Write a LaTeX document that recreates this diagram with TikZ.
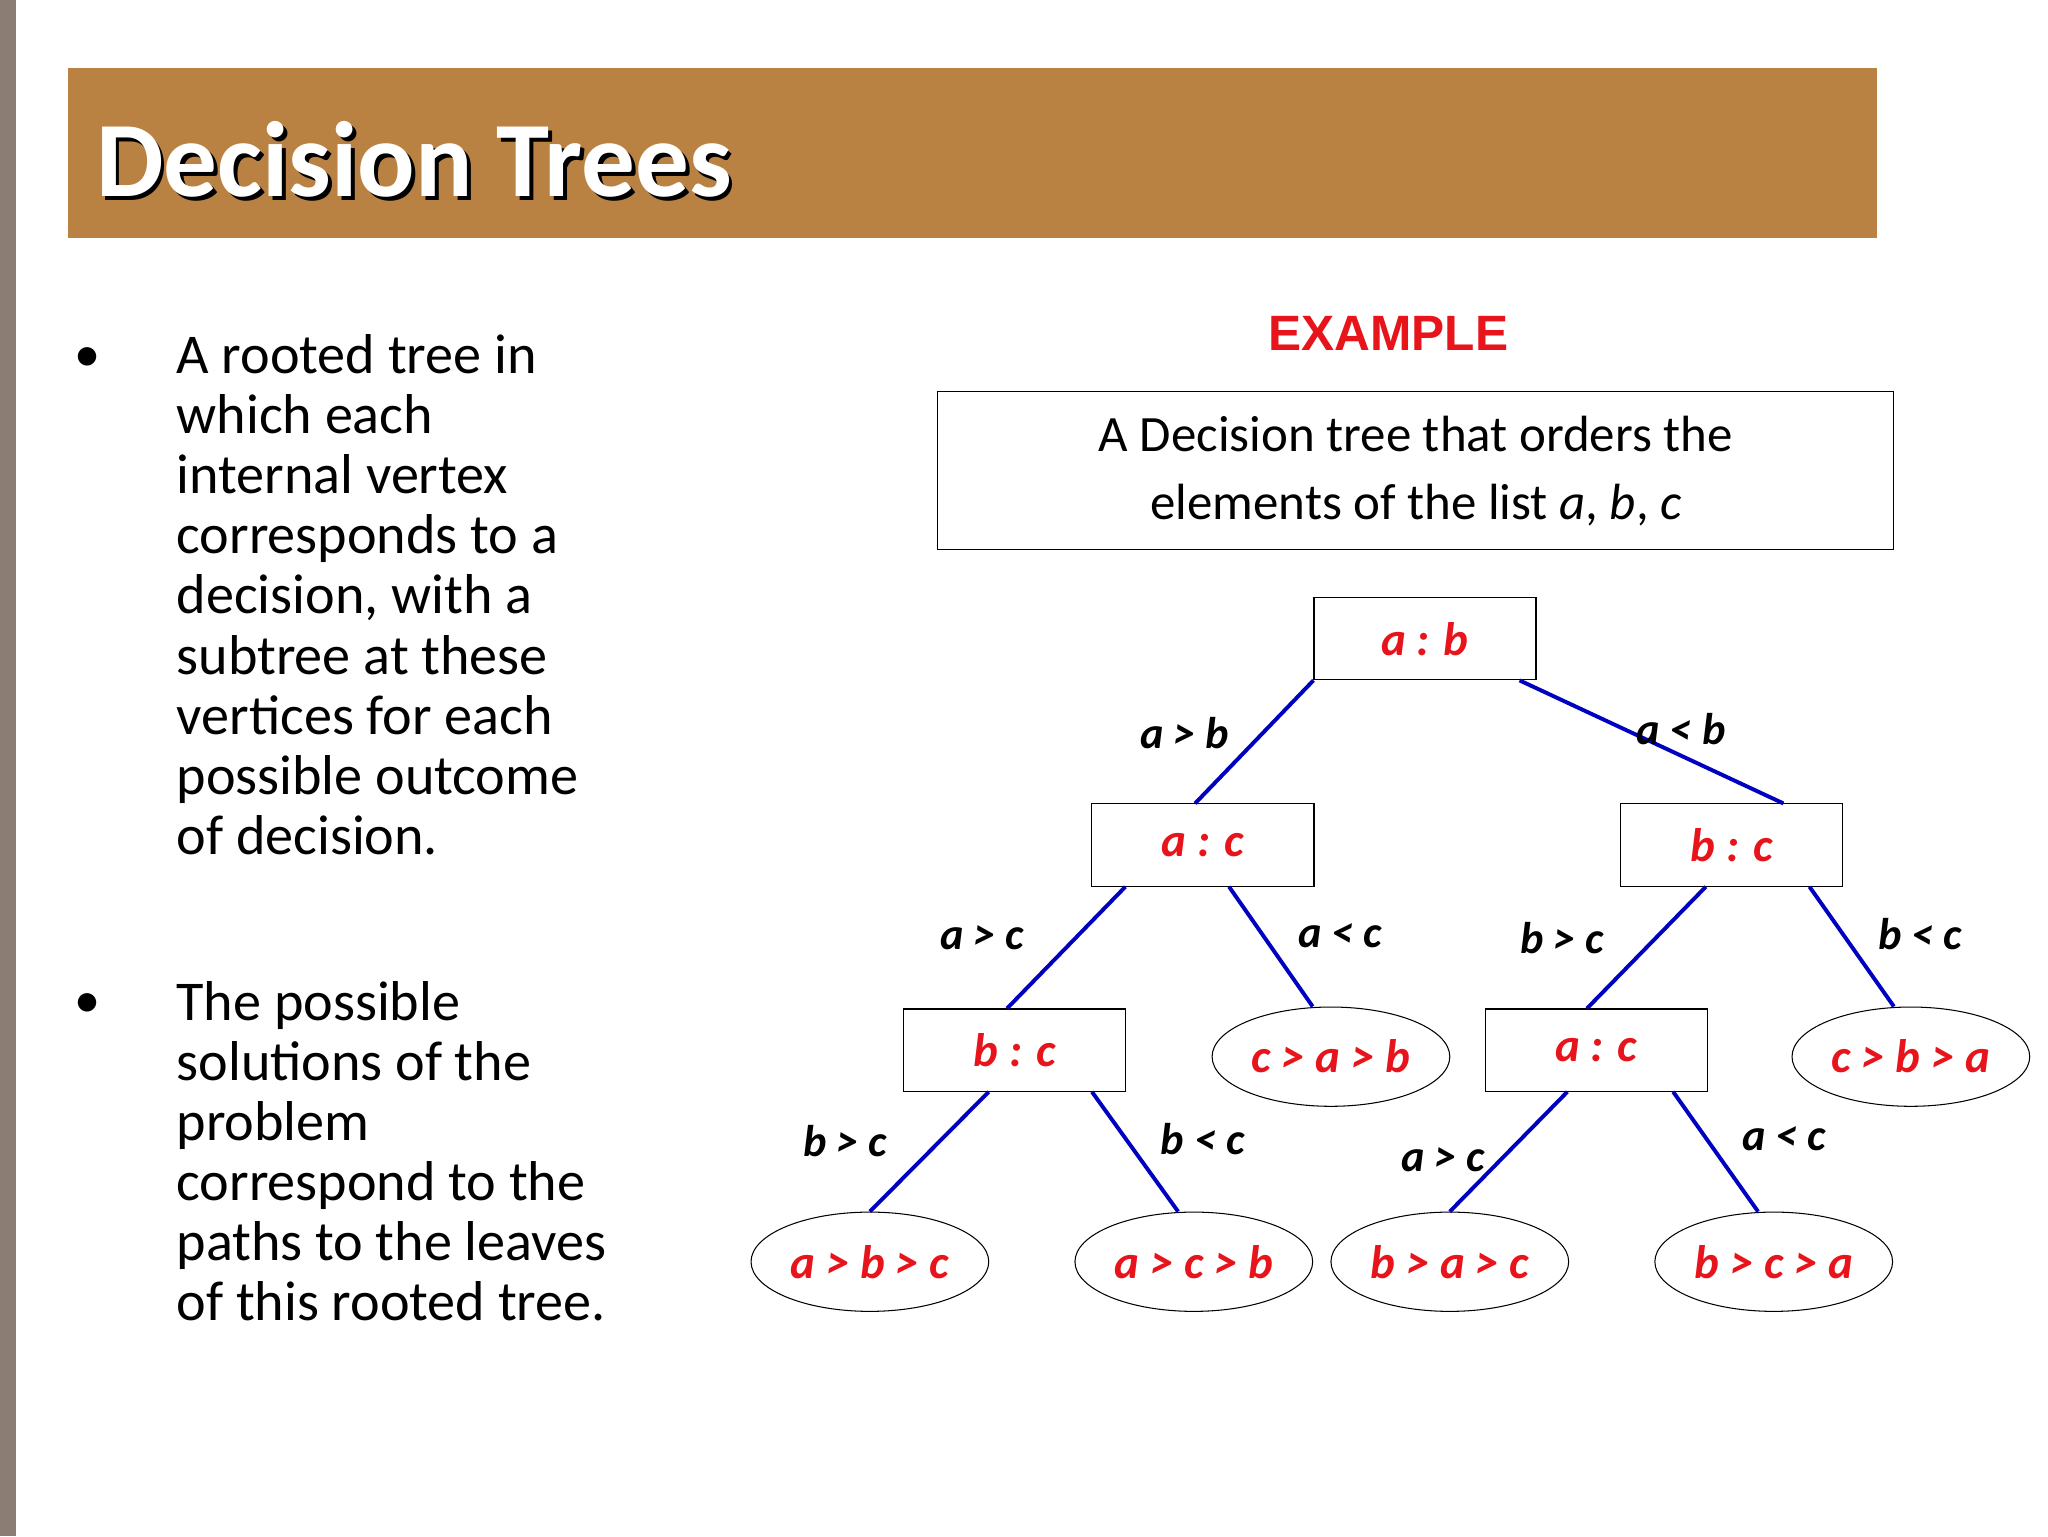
\documentclass[tikz,border=0pt]{standalone}
\usepackage{fontspec}
\setmainfont{Carlito}
\newfontfamily\arialf{Liberation Sans}
\usetikzlibrary{shapes.geometric}
\definecolor{barc}{HTML}{B98243}
\definecolor{stripc}{HTML}{8B7D73}
\definecolor{edgec}{HTML}{0000C0}
\definecolor{redc}{HTML}{E8141B}
\tikzset{
  dnode/.style={draw,thick,minimum width=170pt,minimum height=63pt,inner sep=0pt,text=redc,font=\fontsize{36}{40}\selectfont\bfseries\itshape},
  leaf/.style={draw,thick,ellipse,minimum width=182pt,minimum height=76pt,inner sep=0pt,text=redc,font=\fontsize{36}{40}\selectfont\bfseries\itshape},
  elab/.style={font=\fontsize{34}{38}\selectfont\bfseries\itshape},
  edge/.style={draw=edgec,line width=3pt},
  btxt/.style={anchor=north west,align=left,font=\fontsize{43}{46}\selectfont,inner sep=0pt}
}
\begin{document}
\begin{tikzpicture}[x=1pt,y=-1pt]
\useasboundingbox (0,0) rectangle (1568,1176);
\fill[white] (0,0) rectangle (1568,1176);
\fill[stripc] (0,0) rectangle (12,1176);
\fill[barc] (52,52) rectangle (1437,182);
\node[anchor=west,text=black,font=\fontsize{82}{90}\selectfont\bfseries] at (73,125) {Decision Trees};
\node[anchor=west,text=white,font=\fontsize{82}{90}\selectfont\bfseries] (title) at (70,122) {Decision Trees};
\node[font=\fontsize{40}{40}\selectfont] (b1) at (67,275) {•};
\node[btxt] (t1) at (135,256) {A rooted tree in\\which each\\internal vertex\\corresponds to a\\decision, with a\\subtree at these\\vertices for each\\possible outcome\\of decision.};
\node[font=\fontsize{40}{40}\selectfont] (b2) at (67,770) {•};
\node[btxt] (t2) at (135,751) {The possible\\solutions of the\\problem\\correspond to the\\paths to the leaves\\of this rooted tree.};
\node[text=redc,font=\arialf\fontsize{38}{40}\selectfont\bfseries] (ex) at (1063,255) {EXAMPLE};
\node[draw,thick,minimum width=732pt,minimum height=121pt,align=center,font=\fontsize{39}{52}\selectfont] (box) at (1084,360.5) {A Decision tree that orders the\\elements of the list \textit{a}, \textit{b}, \textit{c}};
\node[dnode] (ab) at (1091,489) {a : b};
\node[dnode] (ac) at (921,647) {a : c};
\node[dnode] (bc) at (1326,647) {b : c};
\node[dnode] (bcL) at (777,804) {b : c};
\node[dnode] (acR) at (1222,804) {a : c};
\node[leaf] (cab) at (1019,809) {c > a > b};
\node[leaf] (cba) at (1463,809) {c > b > a};
\node[leaf] (abc) at (666,966) {a > b > c};
\node[leaf] (acb) at (914,966) {a > c > b};
\node[leaf] (bac) at (1110,966) {b > a > c};
\node[leaf] (bca) at (1358,966) {b > c > a};
\draw[edge] (ab.south west) -- ([xshift=-6pt]ac.north);
\draw[edge] ([xshift=-13pt]ab.south east) -- ([xshift=-46pt]bc.north east);
\draw[edge] ([xshift=26pt]ac.south west) -- ([xshift=-6pt]bcL.north);
\draw[edge] ([xshift=20pt]ac.south) -- ([xshift=-14pt]cab.north);
\draw[edge] ([xshift=-20pt]bc.south) -- ([xshift=-7pt]acR.north);
\draw[edge] ([xshift=-26pt]bc.south east) -- ([xshift=-13pt]cba.north);
\draw[edge] ([xshift=-20pt]bcL.south) -- (abc.north);
\draw[edge] ([xshift=59pt]bcL.south) -- ([xshift=-12pt]acb.north);
\draw[edge] ([xshift=-22pt]acR.south) -- (bac.north);
\draw[edge] ([xshift=59pt]acR.south) -- ([xshift=-12pt]bca.north);
\node[elab] (l1) at (907,561) {a > b};
\node[elab] (l2) at (1287,558) {a < b};
\node[elab] (l3) at (752,718) {a > c};
\node[elab] (l4) at (1026,716) {a < c};
\node[elab] (l5) at (1196,718) {b > c};
\node[elab] (l6) at (1470,715) {b < c};
\node[elab] (l7) at (647,874) {b > c};
\node[elab] (l8) at (921,872) {b < c};
\node[elab] (l9) at (1105,888) {a > c};
\node[elab] (l10) at (1366,872) {a < c};
\end{tikzpicture}
\end{document}
